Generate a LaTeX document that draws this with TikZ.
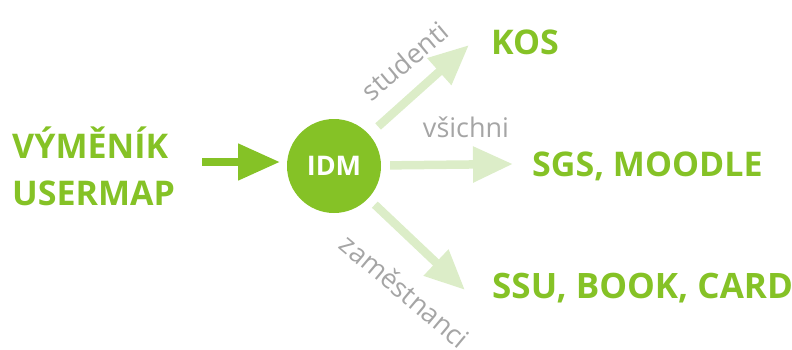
\documentclass[tikz,border=0pt]{standalone}
\usepackage{fontspec}
\setmainfont{Open Sans}
\usetikzlibrary{arrows.meta}
\definecolor{idmgreen}{HTML}{85C226}
\definecolor{lightgreen}{HTML}{DCEDC8}
\definecolor{labelgray}{HTML}{A5A5A5}
\tikzset{
  bigtext/.style={text=idmgreen, font=\fontsize{34}{47}\selectfont\bfseries, inner sep=0pt},
  graylabel/.style={text=labelgray, font=\fontsize{27}{32}\selectfont, inner sep=0pt},
  lightarrow/.style={draw=lightgreen, line width=8.5pt, -{Triangle[width=34pt,length=40pt]}},
  mainarrow/.style={draw=idmgreen, line width=8pt, -{Triangle[width=35pt,length=42pt]}},
  hub/.style={circle, fill=idmgreen, minimum size=94pt, inner sep=0pt, text=white, font=\fontsize{27}{30}\selectfont\bfseries}
}
\begin{document}
\begin{tikzpicture}[x=1pt,y=-1pt]
\useasboundingbox (0,0) rectangle (792,349);
\node[hub] (idm) at (334,166) {IDM};
\node[bigtext, anchor=base west, align=left] (src) at (12,205) {VÝMĚNÍK\\USERMAP};
\node[bigtext, anchor=base west] (kos) at (491,54) {KOS};
\node[bigtext, anchor=base west] (sgs) at (532,176) {SGS, MOODLE};
\node[bigtext, anchor=base west, font=\fontsize{35}{47}\selectfont\bfseries] (ssu) at (492,298) {SSU, BOOK, CARD};
\coordinate (srcend) at (202,162);
\coordinate (idmin) at (280,162);
\coordinate (kostip) at (469,45);
\coordinate (sgstip) at (513,164);
\coordinate (ssutip) at (465,290);
\draw[mainarrow] (srcend) -- (idmin);
\draw[lightarrow, shorten <=12pt] (idm) -- (kostip);
\draw[lightarrow, shorten <=9pt] (idm) -- (sgstip);
\draw[lightarrow, shorten <=9pt] (idm) -- (ssutip);
\node[graylabel, anchor=center] (lstud) at (405,61) [rotate=40] {studenti};
\node[graylabel, anchor=base] (lvsi) at (466,137) {všichni};
\node[graylabel, anchor=center] (lzam) at (405,291) [rotate=-40] {zaměstnanci};
\end{tikzpicture}
\end{document}
